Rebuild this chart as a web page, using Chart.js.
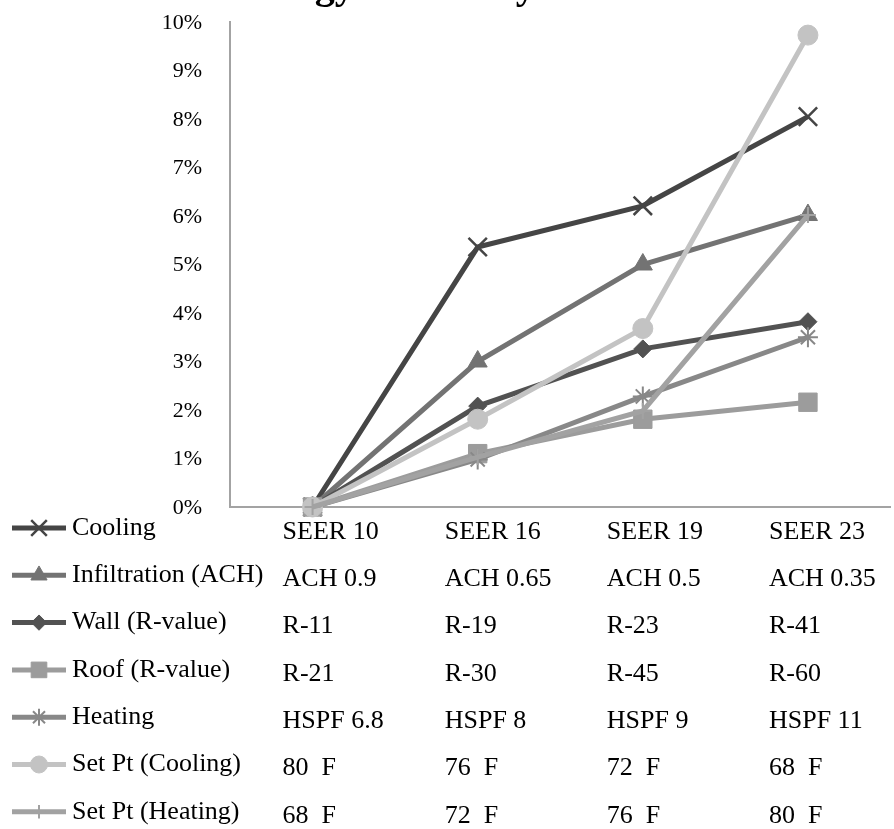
<!DOCTYPE html>
<html>
<head>
<meta charset="utf-8">
<script src="https://cdn.jsdelivr.net/npm/chart.js@4/dist/chart.umd.min.js"></script>
<style>
  html, body { margin: 0; padding: 0; background: #fff; overflow: hidden; width: 894px; height: 829px; }
  #wrap { position: relative; width: 906px; height: 829px; }
</style>
</head>
<body>
<div id="wrap"><canvas id="chart" width="906" height="829"></canvas></div>
<script>
// Chart title
const titleText = 'Energy Efficiency';

// Upgrade levels (x categories) and the spec text shown for each measure
const categories  = ['Base', 'Level 1', 'Level 2', 'Level 3'];
const coolingSpec = ['SEER 10', 'SEER 16', 'SEER 19', 'SEER 23'];
const infilSpec   = ['ACH 0.9', 'ACH 0.65', 'ACH 0.5', 'ACH 0.35'];
const wallSpec    = ['R-11', 'R-19', 'R-23', 'R-41'];
const roofSpec    = ['R-21', 'R-30', 'R-45', 'R-60'];
const heatSpec    = ['HSPF 6.8', 'HSPF 8', 'HSPF 9', 'HSPF 11'];
const spCoolSpec  = ['80  F', '76  F', '72  F', '68  F'];
const spHeatSpec  = ['68  F', '72  F', '76  F', '80  F'];

// Energy savings (fraction) per measure at each level
const cooling   = [0, 0.0536, 0.0621, 0.0805];
const infil     = [0, 0.0300, 0.0500, 0.0602];
const wall      = [0, 0.0208, 0.0326, 0.0382];
const roof      = [0, 0.0110, 0.0181, 0.0216];
const heating   = [0, 0.0098, 0.0228, 0.0350];
const spCooling = [0, 0.0181, 0.0368, 0.0973];
const spHeating = [0, 0.0103, 0.0198, 0.0602];

// Y axis tick values
const yTicks = [0, 0.01, 0.02, 0.03, 0.04, 0.05, 0.06, 0.07, 0.08, 0.09, 0.10];

const serif = '"Liberation Serif", "Times New Roman", Times, serif';

function series(label, data, color, style, radius, pbw, spec, order) {
  return {
    label, data, spec, order,
    borderColor: color,
    backgroundColor: color,
    borderWidth: 5,
    tension: 0,
    pointStyle: style,
    pointRadius: radius,
    pointHoverRadius: radius,
    pointBorderWidth: pbw,
    pointBackgroundColor: color,
    pointBorderColor: color,
    clip: false
  };
}

const datasets = [
  series('Cooling',            cooling,   '#454545', 'crossRot', 13, 2.5, coolingSpec, 7),
  series('Infiltration (ACH)', infil,     '#737373', 'triangle', 11, 1,   infilSpec,   6),
  series('Wall (R-value)',     wall,      '#525252', 'rectRot',   9, 1,   wallSpec,    5),
  series('Roof (R-value)',     roof,      '#9c9c9c', 'rect',     13, 1,   roofSpec,    4),
  series('Heating',            heating,   '#888888', 'star',     10, 2,   heatSpec,    3),
  series('Set Pt (Cooling)',   spCooling, '#c3c3c3', 'circle',   10, 1,   spCoolSpec,  2),
  series('Set Pt (Heating)',   spHeating, '#a2a2a2', 'cross',     8, 2,   spHeatSpec,  1)
];

function drawMarker(ctx, ds, x, y, scale) {
  const opts = {
    pointStyle: ds.pointStyle,
    radius: ds.pointRadius * scale,
    borderWidth: ds.pointBorderWidth,
    rotation: 0
  };
  ctx.fillStyle = ds.pointBackgroundColor;
  ctx.strokeStyle = ds.pointBorderColor;
  ctx.lineWidth = ds.pointBorderWidth;
  Chart.helpers.drawPoint(ctx, opts, x, y);
}

// Draws the title, the percent labels and the legend / spec table under the plot
const tablePlugin = {
  id: 'specTable',
  afterDraw(chart) {
    const { ctx, chartArea, scales: { x, y } } = chart;
    ctx.save();

    ctx.fillStyle = '#000';
    ctx.font = 'bold 40px ' + serif;
    ctx.textAlign = 'center';
    ctx.textBaseline = 'alphabetic';
    ctx.fillText(titleText, 383, -2);

    ctx.font = '22px ' + serif;
    ctx.textBaseline = 'middle';
    ctx.textAlign = 'right';
    yTicks.forEach(v => {
      const py = y.getPixelForValue(v);
      ctx.fillText(Math.round(v * 100) + '%', chartArea.left - 28, py + 1);
    });

    const rowH = 47.3;
    chart.data.datasets.forEach((ds, r) => {
      const ry = chartArea.bottom + 21 + r * rowH;
      ctx.save();
      ctx.strokeStyle = ds.borderColor;
      ctx.lineWidth = 5;
      ctx.beginPath();
      ctx.moveTo(12, ry);
      ctx.lineTo(66, ry);
      ctx.stroke();
      drawMarker(ctx, ds, 39, ry, 0.85);
      ctx.restore();

      ctx.fillStyle = '#000';
      ctx.font = '26px ' + serif;
      ctx.textAlign = 'left';
      ctx.textBaseline = 'middle';
      ctx.fillText(ds.label, 72, ry);
      ds.spec.forEach((txt, i) => {
        const cx = x.getPixelForValue(i) - 30 - 3 * i;
        ctx.fillText(txt, cx, ry + 4);
      });
    });
    ctx.restore();
  }
};

new Chart(document.getElementById('chart'), {
  type: 'line',
  data: { labels: categories, datasets },
  options: {
    responsive: false,
    animation: false,
    devicePixelRatio: 1,
    layout: { padding: { left: 230, top: 22, right: 9, bottom: 322 } },
    plugins: { legend: { display: false }, tooltip: { enabled: false }, title: { display: false } },
    scales: {
      x: {
        type: 'category',
        offset: true,
        grid: { display: false, drawTicks: false, tickLength: 0 },
        ticks: { display: false, padding: 0 },
        border: { display: true, color: '#a3a3a3', width: 2 }
      },
      y: {
        min: 0,
        max: 0.10,
        afterBuildTicks: s => { s.ticks = yTicks.map(v => ({ value: v })); },
        grid: { display: false, drawTicks: false, tickLength: 0 },
        ticks: { display: false, padding: 0 },
        border: { display: true, color: '#a3a3a3', width: 2 }
      }
    }
  },
  plugins: [tablePlugin]
});
</script>
</body>
</html>
